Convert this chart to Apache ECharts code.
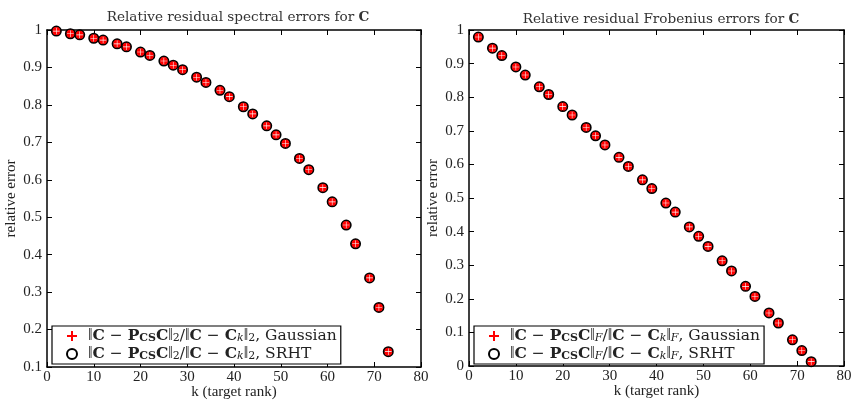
<!DOCTYPE html>
<html>
<head>
<meta charset="utf-8">
<script src="https://cdn.jsdelivr.net/npm/echarts@6/dist/echarts.min.js"></script>
<style>
  html, body { margin: 0; padding: 0; background: #fff; }
  #main { width: 852px; height: 401px; }
</style>
</head>
<body>
<div id="main"></div>
<script>
// target ranks (x)
var kVals = [2, 5, 7, 10, 12, 15, 17, 20, 22, 25, 27, 29, 32, 34, 37, 39, 42, 44, 47, 49, 51, 54, 56, 59, 61, 64, 66, 69, 71, 73];
// spectral errors
var specGauss = [0.997, 0.990, 0.987, 0.978, 0.973, 0.963, 0.955, 0.941, 0.932, 0.917, 0.906, 0.894, 0.874, 0.860, 0.839, 0.822, 0.795, 0.776, 0.744, 0.720, 0.697, 0.657, 0.627, 0.579, 0.541, 0.479, 0.429, 0.338, 0.259, 0.141];
var specSrht = [0.997, 0.990, 0.987, 0.978, 0.973, 0.963, 0.955, 0.941, 0.932, 0.917, 0.906, 0.894, 0.874, 0.860, 0.839, 0.822, 0.795, 0.776, 0.744, 0.720, 0.697, 0.657, 0.627, 0.579, 0.541, 0.479, 0.429, 0.338, 0.259, 0.141];
// frobenius errors
var frobGauss = [0.979, 0.946, 0.924, 0.890, 0.866, 0.831, 0.808, 0.772, 0.747, 0.710, 0.685, 0.658, 0.621, 0.594, 0.554, 0.528, 0.485, 0.458, 0.414, 0.386, 0.356, 0.313, 0.283, 0.237, 0.207, 0.158, 0.128, 0.078, 0.046, 0.013];
var frobSrht = [0.979, 0.946, 0.924, 0.890, 0.866, 0.831, 0.808, 0.772, 0.747, 0.710, 0.685, 0.658, 0.621, 0.594, 0.554, 0.528, 0.485, 0.458, 0.414, 0.386, 0.356, 0.313, 0.283, 0.237, 0.207, 0.158, 0.128, 0.078, 0.046, 0.013];

var serif = '"Liberation Serif", "DejaVu Serif", serif';
var wide = '"DejaVu Serif", "Liberation Serif", serif';
var chart = echarts.init(document.getElementById('main'));

function pairs(xs, ys) {
  return xs.map(function (x, i) { return [x, ys[i]]; });
}

// red disk with a thin white cross cut out (plus over circle look)
var quarterDisk = 'path://M9.3 9.3L9.3 0.05A10 10 0 0 0 0.05 9.3Z' +
  'M10.7 9.3L10.7 0.05A10 10 0 0 1 19.95 9.3Z' +
  'M9.3 10.7L9.3 19.95A10 10 0 0 1 0.05 10.7Z' +
  'M10.7 10.7L10.7 19.95A10 10 0 0 0 19.95 10.7Z';
var plusIcon = 'path://M4 0H6V4H10V6H6V10H4V6H0V4H4Z';

function yFmt(v) {
  if (Math.abs(v) < 1e-9) return '0';
  if (Math.abs(v - 1) < 1e-9) return '1';
  return v.toFixed(1);
}

var rich = {
  d: { fontFamily: serif, fontSize: 16, color: '#222' },
  n: { fontFamily: wide, fontSize: 15.5, color: '#222' },
  b: { fontFamily: wide, fontSize: 15.5, fontWeight: 'bold', color: '#222' },
  sb: { fontFamily: wide, fontSize: 11, fontWeight: 'bold', color: '#222', verticalAlign: 'bottom', padding: [4, 0, 0, 0] },
  s: { fontFamily: wide, fontSize: 11, fontStyle: 'italic', color: '#222', verticalAlign: 'bottom', padding: [4, 0, 0, 0] },
  s2: { fontFamily: wide, fontSize: 11, color: '#222', verticalAlign: 'bottom', padding: [4, 0, 0, 0] }
};

// legend entries: norm subscript and method
var legendInfo = {
  'spec-gauss': ['{s2|2}', 'Gaussian'],
  'spec-srht': ['{s2|2}', 'SRHT'],
  'frob-gauss': ['{s|F}', 'Gaussian'],
  'frob-srht': ['{s|F}', 'SRHT']
};

function legendLabel(name) {
  var norm = legendInfo[name][0];
  var tail = legendInfo[name][1];
  return '{d|‖}{b|C}{n| − }{b|P}{sb|CS}{b|C}{d|‖}' + norm + '{n|/}{d|‖}{b|C}{n| − }{b|C}{s|k}{d|‖}' + norm + '{n|, ' + tail + '}';
}

function xAxisDef(gi, pos, labels) {
  return {
    gridIndex: gi, type: 'value', position: pos, min: 0, max: 80, interval: 10,
    axisLine: { show: true, onZero: false, lineStyle: { color: '#000', width: 1.5 } },
    axisTick: { show: true, inside: true, length: 5, lineStyle: { color: '#000' } },
    axisLabel: { show: labels, color: '#222', fontFamily: serif, fontSize: 15, margin: 3 },
    splitLine: { show: false },
    name: labels ? 'k (target rank)' : '', nameLocation: 'middle', nameGap: 18,
    nameMoveOverlap: false,
    nameTextStyle: { color: '#222', fontFamily: serif, fontSize: 15 }
  };
}

function yAxisDef(gi, pos, labels, min) {
  return {
    gridIndex: gi, type: 'value', position: pos, min: min, max: 1, interval: 0.1,
    axisLine: { show: true, onZero: false, lineStyle: { color: '#000', width: 1.5 } },
    axisTick: { show: true, inside: true, length: 5, lineStyle: { color: '#000' } },
    axisLabel: { show: labels, color: '#222', fontFamily: serif, fontSize: 15, margin: 5, formatter: yFmt },
    splitLine: { show: false },
    name: labels ? 'relative error' : '', nameLocation: 'middle', nameGap: 28,
    nameMoveOverlap: false,
    nameTextStyle: { color: '#222', fontFamily: serif, fontSize: 15 }
  };
}

function srhtSeries(name, xi, yi, data) {
  return {
    name: name, type: 'scatter', xAxisIndex: xi, yAxisIndex: yi, data: data,
    symbol: 'circle', symbolSize: 9, z: 2,
    itemStyle: { color: '#fff', borderColor: '#000', borderWidth: 2, opacity: 1 }
  };
}

function gaussSeries(name, xi, yi, data) {
  return {
    name: name, type: 'scatter', xAxisIndex: xi, yAxisIndex: yi, data: data,
    symbol: quarterDisk, symbolSize: 8, z: 3,
    itemStyle: { color: '#ff0000', opacity: 1 }
  };
}

function legendDef(left, names) {
  return {
    orient: 'vertical', left: left, top: 326,
    padding: [2, 4, 2, 14], itemGap: 2, itemWidth: 10, itemHeight: 10,
    borderColor: '#000', borderWidth: 1.2, backgroundColor: '#fff',
    selectedMode: false,
    data: [
      { name: names[0], icon: plusIcon, itemStyle: { color: '#ff0000' } },
      { name: names[1], icon: 'circle', itemStyle: { color: '#fff', borderColor: '#000', borderWidth: 2 } }
    ],
    formatter: legendLabel,
    textStyle: { rich: rich, padding: [0, 0, 0, 6] }
  };
}

var titleStyle = {
  fontFamily: wide, fontSize: 13.6, fontWeight: 'normal', color: '#333',
  rich: { b: { fontFamily: wide, fontSize: 13.6, fontWeight: 'bold', color: '#333' } }
};

var option = {
  backgroundColor: '#fff',
  animation: false,
  title: [
    { text: 'Relative residual spectral errors for {b|C}', left: 233, top: 5, textAlign: 'center', textStyle: titleStyle },
    { text: 'Relative residual Frobenius errors for {b|C}', left: 656, top: 7, textAlign: 'center', textStyle: titleStyle }
  ],
  grid: [
    { left: 47, right: 431, top: 30, bottom: 34, outerBoundsMode: 'none' },
    { left: 469, right: 8, top: 30, bottom: 35, outerBoundsMode: 'none' }
  ],
  xAxis: [
    xAxisDef(0, 'bottom', true), xAxisDef(0, 'top', false),
    xAxisDef(1, 'bottom', true), xAxisDef(1, 'top', false)
  ],
  yAxis: [
    yAxisDef(0, 'left', true, 0.1), yAxisDef(0, 'right', false, 0.1),
    yAxisDef(1, 'left', true, 0), yAxisDef(1, 'right', false, 0)
  ],
  legend: [
    legendDef(52, ['spec-gauss', 'spec-srht']),
    legendDef(474, ['frob-gauss', 'frob-srht'])
  ],
  series: [
    srhtSeries('spec-srht', 0, 0, pairs(kVals, specSrht)),
    gaussSeries('spec-gauss', 0, 0, pairs(kVals, specGauss)),
    srhtSeries('frob-srht', 2, 2, pairs(kVals, frobSrht)),
    gaussSeries('frob-gauss', 2, 2, pairs(kVals, frobGauss))
  ]
};

chart.setOption(option);
</script>
</body>
</html>
